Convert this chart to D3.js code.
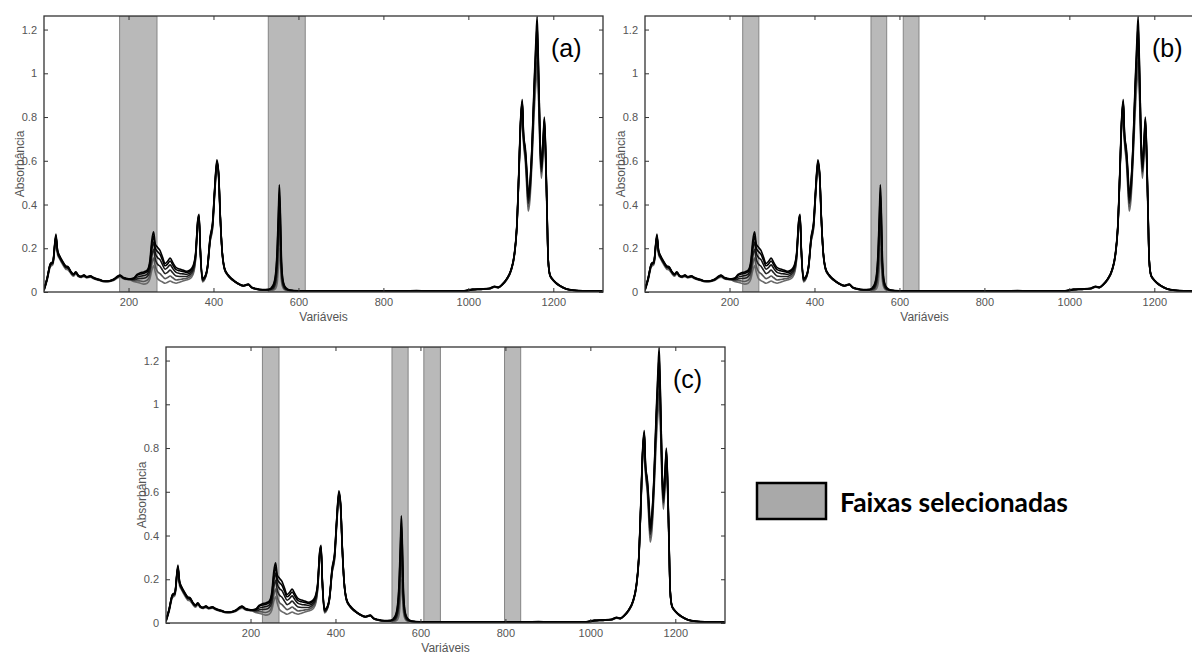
<!DOCTYPE html>
<html>
<head>
<meta charset="utf-8">
<script src="https://cdn.jsdelivr.net/npm/d3@7"></script>
<style>
  body { margin: 0; background: #fff; }
  svg { display: block; }
</style>
</head>
<body>
<div id="chart"></div>
<script>
var width = 1192, height = 655;

// knot positions (variable index)
var variaveis = [1, 8, 16, 22, 29, 33, 38, 45, 52, 58,
  64, 70, 76, 82, 88, 95, 102, 110, 118, 126,
  134, 142, 150, 158, 166, 174, 180, 188, 196, 204,
  212, 220, 228, 236, 244, 250, 255, 259, 263, 268,
  274, 280, 286, 292, 298, 304, 312, 320, 328, 336,
  344, 352, 358, 363, 366, 369, 374, 380, 386, 392,
  398, 403, 408, 412, 416, 420, 426, 434, 444, 456,
  470, 482, 490, 500, 515, 530, 540, 546, 550, 553,
  555, 557, 560, 564, 570, 580, 600, 650, 700, 750,
  800, 850, 878, 900, 950, 990, 1010, 1030, 1050, 1062,
  1070, 1080, 1090, 1100, 1108, 1114, 1119, 1123, 1127, 1130,
  1134, 1138, 1141, 1145, 1150, 1155, 1159, 1162, 1165, 1169,
  1172, 1176, 1179, 1182, 1185, 1188, 1192, 1198, 1205, 1215,
  1230, 1250, 1280, 1316];

var amostra1 = [.010,.060,.130,.140,.265,.190,.165,.140,.120,.115,
  .095,.082,.092,.076,.072,.078,.070,.074,.066,.060,
  .056,.050,.050,.053,.060,.072,.078,.066,.062,.060,
  .064,.080,.088,.092,.100,.140,.240,.275,.220,.205,
  .190,.160,.130,.140,.155,.135,.112,.105,.100,.095,
  .100,.120,.180,.330,.355,.200,.062,.072,.120,.250,
  .320,.480,.605,.550,.350,.200,.110,.080,.060,.042,
  .030,.036,.022,.016,.011,.012,.030,.080,.200,.380,
  .490,.400,.150,.050,.020,.009,.006,.005,.005,.004,
  .004,.005,.007,.005,.004,.005,.012,.014,.017,.026,
  .022,.036,.060,.100,.170,.300,.560,.790,.880,.720,
  .660,.550,.450,.500,.680,.960,1.150,1.260,1.050,.700,
  .580,.700,.800,.650,.400,.150,.080,.060,.045,.030,
  .015,.008,.005,.004];

var amostra2 = [.012,.058,.126,.136,.255,.186,.160,.136,.116,.112,
  .092,.080,.089,.074,.070,.076,.068,.072,.064,.058,
  .054,.049,.049,.052,.058,.070,.075,.064,.060,.058,
  .062,.076,.082,.086,.094,.128,.220,.255,.200,.185,
  .172,.146,.120,.128,.142,.124,.102,.097,.094,.090,
  .094,.114,.174,.324,.350,.196,.059,.070,.117,.245,
  .315,.474,.598,.545,.347,.198,.108,.078,.058,.041,
  .029,.035,.021,.015,.010,.011,.026,.070,.180,.350,
  .450,.370,.130,.044,.017,.008,.005,.005,.004,.004,
  .004,.005,.006,.005,.004,.005,.012,.013,.016,.025,
  .021,.035,.059,.098,.168,.296,.552,.780,.872,.712,
  .650,.535,.432,.488,.668,.940,1.120,1.220,1.030,.690,
  .570,.690,.790,.640,.395,.148,.079,.059,.044,.029,
  .015,.008,.005,.004];

var amostra3 = [.008,.055,.122,.132,.248,.180,.156,.132,.112,.108,
  .090,.078,.087,.073,.069,.074,.067,.071,.063,.057,
  .053,.048,.048,.051,.057,.068,.073,.063,.059,.057,
  .060,.068,.072,.075,.082,.110,.195,.228,.178,.158,
  .148,.125,.104,.112,.124,.108,.090,.085,.083,.081,
  .086,.106,.168,.318,.344,.192,.056,.067,.114,.240,
  .310,.468,.592,.540,.344,.196,.106,.077,.057,.040,
  .028,.034,.020,.014,.010,.010,.020,.055,.150,.300,
  .390,.320,.110,.036,.014,.007,.005,.004,.004,.004,
  .004,.004,.006,.004,.004,.005,.011,.013,.016,.024,
  .021,.034,.058,.097,.166,.292,.546,.772,.866,.705,
  .640,.520,.420,.476,.655,.920,1.090,1.180,1.000,.675,
  .560,.676,.780,.630,.390,.146,.078,.058,.044,.029,
  .014,.007,.005,.004];

var amostra4 = [.011,.057,.124,.134,.252,.182,.158,.134,.114,.110,
  .091,.079,.088,.074,.070,.075,.068,.071,.064,.058,
  .054,.049,.049,.051,.057,.069,.074,.064,.060,.058,
  .056,.060,.062,.063,.070,.094,.165,.195,.150,.128,
  .118,.100,.084,.090,.100,.088,.073,.071,.071,.071,
  .078,.098,.162,.312,.340,.189,.053,.065,.112,.236,
  .304,.462,.586,.535,.341,.194,.105,.076,.056,.040,
  .028,.034,.020,.014,.010,.010,.016,.042,.115,.250,
  .330,.270,.090,.030,.012,.007,.005,.004,.004,.004,
  .004,.005,.006,.005,.004,.005,.011,.012,.015,.024,
  .020,.034,.057,.096,.165,.290,.542,.768,.860,.698,
  .630,.505,.405,.462,.640,.900,1.060,1.140,.970,.660,
  .550,.664,.770,.620,.384,.144,.077,.058,.043,.028,
  .014,.007,.005,.004];

var amostra5 = [.014,.062,.128,.138,.258,.188,.162,.138,.118,.113,
  .093,.081,.090,.075,.071,.077,.069,.073,.065,.059,
  .055,.050,.050,.052,.059,.071,.076,.065,.061,.059,
  .052,.052,.050,.048,.054,.075,.130,.155,.118,.094,
  .084,.072,.061,.066,.073,.065,.055,.057,.060,.062,
  .069,.089,.156,.306,.334,.185,.050,.062,.110,.232,
  .298,.455,.580,.530,.338,.192,.104,.076,.056,.040,
  .028,.033,.020,.014,.010,.010,.012,.030,.085,.200,
  .270,.220,.070,.024,.010,.007,.005,.004,.004,.004,
  .004,.005,.006,.005,.004,.005,.011,.012,.015,.023,
  .020,.033,.056,.095,.163,.288,.538,.762,.852,.690,
  .620,.490,.390,.448,.625,.870,1.000,1.060,.930,.640,
  .540,.650,.760,.610,.378,.142,.076,.057,.043,.028,
  .014,.007,.005,.004];

var amostra6 = [.006,.050,.115,.125,.235,.170,.150,.125,.105,.100,
  .085,.072,.082,.070,.066,.070,.064,.068,.060,.055,
  .051,.047,.046,.049,.054,.064,.068,.060,.057,.055,
  .048,.045,.040,.036,.040,.058,.100,.120,.090,.062,
  .052,.046,.040,.045,.050,.045,.040,.045,.050,.055,
  .060,.080,.150,.300,.330,.180,.046,.060,.108,.228,
  .292,.450,.570,.522,.332,.190,.102,.074,.055,.039,
  .027,.033,.019,.013,.009,.009,.008,.015,.040,.120,
  .200,.150,.050,.018,.008,.006,.004,.004,.004,.004,
  .004,.004,.005,.004,.004,.004,.010,.012,.014,.022,
  .019,.032,.055,.093,.160,.284,.530,.750,.840,.680,
  .600,.460,.370,.420,.600,.820,.950,1.020,.900,.620,
  .520,.630,.740,.590,.370,.140,.075,.056,.042,.027,
  .013,.007,.005,.004];

var amostras = [amostra6, amostra5, amostra4, amostra3, amostra2, amostra1];
var corAmostra = ["#6a6a6a", "#555", "#222", "#111", "#000", "#000"];

// selected bands (start, end variable) for each model
var faixasA = [[179, 267], [529, 616]];
var faixasB = [[231, 269], [533, 570], [609, 646]];
var faixasC = [[228, 267], [533, 571], [608, 647], [798, 836]];

var xTicks = [200, 400, 600, 800, 1000, 1200];
var yTicks = [0, 0.2, 0.4, 0.6, 0.8, 1, 1.2];

var pw = 559, ph = 276;

var x = d3.scaleLinear().domain([1, 1317]).range([0, pw]);
var y = d3.scaleLinear().domain([0, 1.262]).range([ph, 0]);

var line = d3.line()
    .x(function(d) { return x(d[0]); })
    .y(function(d) { return y(d[1]); })
    .curve(d3.curveMonotoneX);

var svg = d3.select("#chart").append("svg")
    .attr("width", width)
    .attr("height", height)
    .style("font-family", "Arial, 'Liberation Sans', sans-serif");

svg.append("rect").attr("width", width).attr("height", height).attr("fill", "#fff");

function painel(id, left, top, faixas, rotulo) {
  var g = svg.append("g").attr("transform", "translate(" + left + "," + top + ")");

  g.append("clipPath").attr("id", "clip" + id)
    .append("rect").attr("width", pw).attr("height", ph);

  var plot = g.append("g").attr("clip-path", "url(#clip" + id + ")");

  plot.selectAll("rect.faixa")
      .data(faixas)
    .enter().append("rect")
      .attr("class", "faixa")
      .attr("x", function(d) { return x(d[0]); })
      .attr("width", function(d) { return x(d[1]) - x(d[0]); })
      .attr("y", 0)
      .attr("height", ph)
      .attr("fill", "#b9b9b9")
      .attr("stroke", "#858585")
      .attr("stroke-width", 1);

  plot.selectAll("path.espectro")
      .data(amostras)
    .enter().append("path")
      .attr("class", "espectro")
      .attr("d", function(vals) {
        return line(vals.map(function(v, i) { return [variaveis[i], v]; }));
      })
      .attr("fill", "none")
      .attr("stroke", function(d, i) { return corAmostra[i]; })
      .attr("stroke-width", 1.6)
      .attr("stroke-linejoin", "round");

  // axes, MATLAB-like box with inward ticks
  var ax = function(axis) {
    return axis.tickSizeInner(-4).tickSizeOuter(0).tickPadding(6);
  };
  var gx = g.append("g").attr("transform", "translate(0," + ph + ")")
      .call(ax(d3.axisBottom(x).tickValues(xTicks)).tickFormat(d3.format("d")));
  var gxt = g.append("g")
      .call(ax(d3.axisTop(x).tickValues(xTicks)).tickFormat(""));
  var gy = g.append("g")
      .call(ax(d3.axisLeft(y).tickValues(yTicks)).tickFormat(d3.format("~g")));
  var gyr = g.append("g").attr("transform", "translate(" + pw + ",0)")
      .call(ax(d3.axisRight(y).tickValues(yTicks)).tickFormat(""));

  [gx, gxt, gy, gyr].forEach(function(a) {
    a.select(".domain").remove();
    a.selectAll(".tick line").attr("stroke", "#333");
    a.selectAll(".tick text").attr("fill", "#555").style("font-size", "11px");
  });
  gy.selectAll(".tick text").attr("dx", "-1");

  g.append("rect")
      .attr("width", pw).attr("height", ph)
      .attr("fill", "none")
      .attr("stroke", "#333")
      .attr("stroke-width", 1.3);

  g.append("text")
      .attr("x", pw / 2).attr("y", ph + 29)
      .attr("text-anchor", "middle")
      .attr("fill", "#555")
      .style("font-size", "12px")
      .text("Variáveis");

  g.append("text")
      .attr("transform", "translate(-20," + (ph / 2 + 10) + ") rotate(-90)")
      .attr("text-anchor", "middle")
      .attr("fill", "#555")
      .style("font-size", "12px")
      .text("Absorbância");

  g.append("text")
      .attr("x", 507).attr("y", 41)
      .attr("fill", "#000")
      .style("font-size", "25px")
      .text(rotulo);
}

painel("a", 44, 16, faixasA, "(a)");
painel("b", 645, 16, faixasB, "(b)");
painel("c", 166, 347, faixasC, "(c)");

// legend
svg.append("rect")
    .attr("x", 757).attr("y", 483)
    .attr("width", 69).attr("height", 36)
    .attr("fill", "#a9a9a9")
    .attr("stroke", "#000")
    .attr("stroke-width", 2.5);

svg.append("text")
    .attr("x", 840).attr("y", 512)
    .attr("textLength", 228)
    .attr("lengthAdjust", "spacingAndGlyphs")
    .style("font-family", "Lato, 'Open Sans', sans-serif")
    .style("font-weight", "bold")
    .style("font-size", "26px")
    .attr("fill", "#000")
    .text("Faixas selecionadas");
</script>
</body>
</html>
